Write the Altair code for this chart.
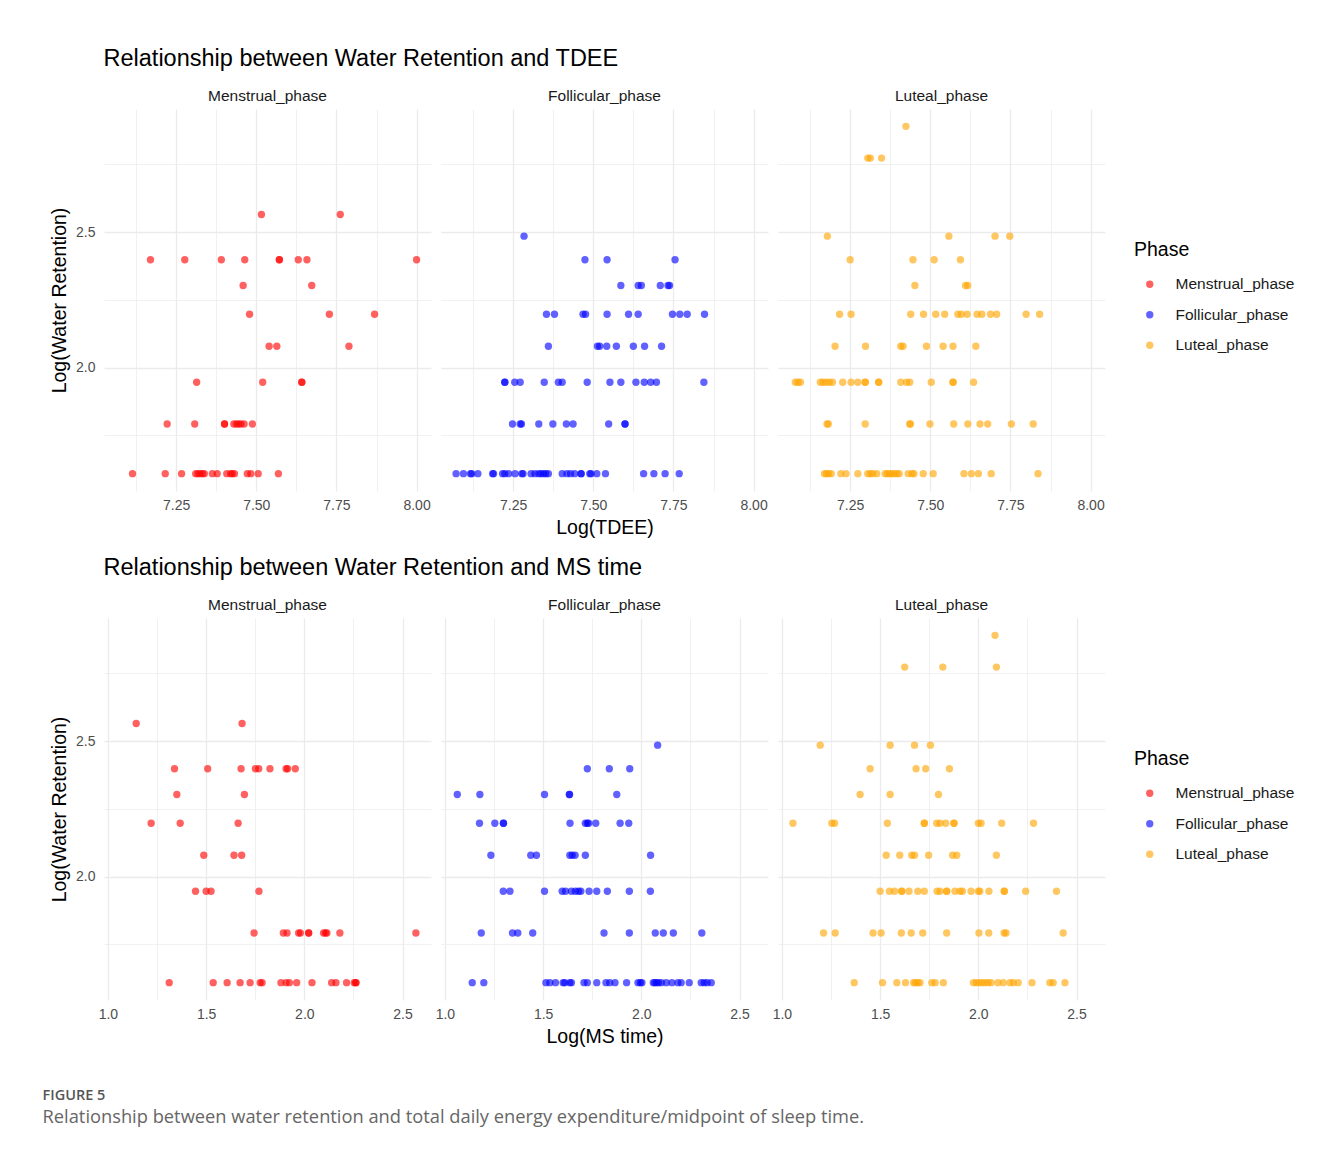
import altair as alt
import pandas as pd

PHASES = ["Menstrual_phase", "Follicular_phase", "Luteal_phase"]
COLORS = ["#FF0000", "#0000FF", "#FFA500"]

# Log(Water Retention) level -> Log(TDEE) values
TDEE_MENSTRUAL = {
    2.565: [7.516, 7.762],
    2.398: [7.170, 7.277, 7.391, 7.464, 7.572, 7.572, 7.631, 7.658, 8.000],
    2.303: [7.459, 7.673],
    2.197: [7.479, 7.728, 7.869],
    2.079: [7.540, 7.564, 7.789],
    1.946: [7.314, 7.520, 7.642, 7.642],
    1.792: [7.222, 7.308, 7.401, 7.401, 7.430, 7.438, 7.445, 7.452, 7.462, 7.488],
    1.609: [7.114, 7.216, 7.267, 7.311, 7.318, 7.325, 7.332, 7.338, 7.363, 7.378,
            7.408, 7.420, 7.425, 7.432, 7.472, 7.483, 7.506, 7.569],
}
TDEE_FOLLICULAR = {
    2.485: [7.284],
    2.398: [7.474, 7.543, 7.755],
    2.303: [7.586, 7.640, 7.650, 7.709, 7.733, 7.738],
    2.197: [7.354, 7.379, 7.468, 7.476, 7.543, 7.610, 7.640, 7.747, 7.770, 7.793, 7.847],
    2.079: [7.360, 7.513, 7.520, 7.542, 7.572, 7.625, 7.660, 7.713],
    1.946: [7.224, 7.224, 7.255, 7.272, 7.347, 7.391, 7.403, 7.481, 7.552, 7.586,
            7.633, 7.659, 7.679, 7.697, 7.845],
    1.792: [7.248, 7.272, 7.276, 7.330, 7.374, 7.416, 7.437, 7.548, 7.599, 7.599],
    1.609: [7.072, 7.095, 7.117, 7.121, 7.140, 7.186, 7.189, 7.217, 7.224, 7.236,
            7.256, 7.277, 7.281, 7.306, 7.318, 7.330, 7.337, 7.345, 7.352, 7.360,
            7.403, 7.418, 7.429, 7.442, 7.462, 7.462, 7.489, 7.493, 7.511, 7.538,
            7.657, 7.689, 7.724, 7.768],
}
TDEE_LUTEAL = {
    2.890: [7.424],
    2.773: [7.305, 7.313, 7.348],
    2.485: [7.179, 7.558, 7.702, 7.748],
    2.398: [7.250, 7.446, 7.512, 7.594],
    2.303: [7.452, 7.610, 7.617],
    2.197: [7.217, 7.253, 7.439, 7.479, 7.517, 7.545, 7.586, 7.597, 7.615, 7.646,
            7.661, 7.688, 7.707, 7.799, 7.841],
    2.079: [7.203, 7.298, 7.408, 7.415, 7.488, 7.540, 7.571, 7.642],
    1.946: [7.079, 7.087, 7.095, 7.157, 7.165, 7.175, 7.185, 7.195, 7.227, 7.253,
            7.274, 7.297, 7.297, 7.339, 7.339, 7.408, 7.426, 7.436, 7.503, 7.571,
            7.571, 7.635],
    1.792: [7.178, 7.182, 7.297, 7.436, 7.438, 7.499, 7.573, 7.617, 7.655, 7.679,
            7.753, 7.821],
    1.609: [7.170, 7.176, 7.183, 7.191, 7.221, 7.237, 7.274, 7.305, 7.313, 7.321,
            7.333, 7.359, 7.366, 7.373, 7.380, 7.388, 7.396, 7.403, 7.431, 7.443,
            7.449, 7.478, 7.509, 7.605, 7.628, 7.650, 7.690, 7.836],
}

# Log(Water Retention) level -> Log(MS time) values
MS_MENSTRUAL = {
    2.565: [1.144, 1.683],
    2.398: [1.339, 1.508, 1.678, 1.751, 1.768, 1.825, 1.907, 1.915, 1.954],
    2.303: [1.351, 1.695],
    2.197: [1.220, 1.368, 1.663],
    2.079: [1.488, 1.642, 1.681],
    1.946: [1.446, 1.500, 1.525, 1.769],
    1.792: [1.744, 1.893, 1.912, 1.971, 1.980, 2.022, 2.022, 2.098, 2.108, 2.115,
            2.181, 2.568],
    1.609: [1.312, 1.536, 1.607, 1.673, 1.724, 1.775, 1.785, 1.881, 1.907, 1.924,
            1.961, 2.039, 2.139, 2.161, 2.215, 2.254, 2.262, 2.263],
}
MS_FOLLICULAR = {
    2.485: [2.083],
    2.398: [1.725, 1.837, 1.941],
    2.303: [1.063, 1.178, 1.507, 1.634, 1.634, 1.875],
    2.197: [1.176, 1.254, 1.298, 1.298, 1.637, 1.715, 1.725, 1.732, 1.768, 1.892, 1.936],
    2.079: [1.234, 1.437, 1.466, 1.636, 1.648, 1.663, 1.715, 2.047],
    1.946: [1.297, 1.331, 1.507, 1.597, 1.614, 1.644, 1.664, 1.680, 1.692, 1.734,
            1.773, 1.827, 1.939, 2.046],
    1.792: [1.185, 1.344, 1.371, 1.447, 1.810, 1.939, 2.071, 2.112, 2.163, 2.308],
    1.609: [1.139, 1.198, 1.514, 1.534, 1.563, 1.602, 1.610, 1.636, 1.644, 1.708,
            1.725, 1.773, 1.820, 1.839, 1.866, 1.925, 1.983, 1.995, 2.003, 2.061,
            2.069, 2.078, 2.088, 2.102, 2.127, 2.156, 2.186, 2.203, 2.244, 2.305,
            2.320, 2.335, 2.356],
}
MS_LUTEAL = {
    2.890: [2.085],
    2.773: [1.625, 1.819, 2.092],
    2.485: [1.195, 1.551, 1.675, 1.756],
    2.398: [1.449, 1.683, 1.732, 1.853],
    2.303: [1.398, 1.551, 1.797],
    2.197: [1.056, 1.254, 1.268, 1.537, 1.725, 1.725, 1.788, 1.805, 1.834, 1.876,
            1.876, 2.000, 2.014, 2.119, 2.281],
    2.079: [1.531, 1.600, 1.661, 1.675, 1.747, 1.869, 1.890, 2.092],
    1.946: [1.500, 1.547, 1.573, 1.610, 1.610, 1.647, 1.692, 1.725, 1.790, 1.805,
            1.839, 1.839, 1.881, 1.907, 1.919, 1.963, 2.000, 2.008, 2.054, 2.132,
            2.132, 2.241, 2.398],
    1.792: [1.212, 1.271, 1.464, 1.505, 1.608, 1.658, 1.717, 1.839, 2.003, 2.053,
            2.131, 2.141, 2.432],
    1.609: [1.368, 1.512, 1.585, 1.629, 1.670, 1.680, 1.692, 1.703, 1.763, 1.780,
            1.822, 1.975, 1.990, 2.005, 2.020, 2.035, 2.050, 2.065, 2.100, 2.127,
            2.161, 2.178, 2.203, 2.273, 2.364, 2.381, 2.441],
}

TDEE_TICKS = [7.125, 7.25, 7.375, 7.5, 7.625, 7.75, 7.875, 8.0]
TDEE_MAJOR = [7.25, 7.5, 7.75, 8.0]
MS_TICKS = [1.0, 1.25, 1.5, 1.75, 2.0, 2.25, 2.5]
MS_MAJOR = [1.0, 1.5, 2.0, 2.5]
Y_TICKS = [1.75, 2.0, 2.25, 2.5, 2.75]
Y_MAJOR = [2.0, 2.5]

FONT = "Liberation Sans"
GRID = "#EBEBEB"


def to_frame(panels):
    rows = []
    for phase, d in zip(PHASES, panels):
        for yv, xs in d.items():
            for xv in xs:
                rows.append({"Phase": phase, "x": xv, "y": yv})
    return pd.DataFrame(rows)


def major_test(vals):
    return "indexof([" + ",".join(str(v) for v in vals) + "], datum.value) >= 0"


def row_chart(df, title, xtitle, xdomain, xticks, xmajor, xfmt):
    xtest = major_test(xmajor)
    ytest = major_test(Y_MAJOR)
    pts = alt.Chart(df).mark_circle(size=54, opacity=0.62).encode(
        x=alt.X(
            "x:Q", title=None,
            scale=alt.Scale(domain=xdomain, nice=False, zero=False),
            axis=alt.Axis(
                values=xticks,
                labelExpr=f"{xtest} ? format(datum.value, '{xfmt}') : ''",
                gridWidth={"condition": {"test": xtest, "value": 1.3}, "value": 0.7},
                gridColor=GRID, domain=False, ticks=False, labelPadding=7,
                labelFontSize=14, labelColor="#4D4D4D", labelFont=FONT,
            ),
        ),
        y=alt.Y(
            "y:Q", title="Log(Water Retention)",
            scale=alt.Scale(domain=[1.545, 2.954], nice=False, zero=False),
            axis=alt.Axis(
                values=Y_TICKS,
                labelExpr=f"{ytest} ? format(datum.value, '.1f') : ''",
                gridWidth={"condition": {"test": ytest, "value": 1.3}, "value": 0.7},
                gridColor=GRID, domain=False, ticks=False, labelPadding=9,
                labelFontSize=14, labelColor="#4D4D4D", labelFont=FONT,
                titleFontSize=19.5, titleFont=FONT, titleFontWeight="normal",
                titleColor="#000000", titlePadding=6,
            ),
        ),
        color=alt.Color(
            "Phase:N",
            scale=alt.Scale(domain=PHASES, range=COLORS),
            legend=alt.Legend(
                title="Phase", orient="none", legendX=1030, legendY=132,
                titleFontSize=19.5, titleFont=FONT, titleFontWeight="normal",
                titleColor="#000000", titlePadding=16,
                labelFontSize=15.5, labelFont=FONT, labelColor="#1A1A1A",
                labelOffset=18, symbolSize=54, symbolOpacity=0.62, symbolOffset=8,
                symbolType="circle", symbolStrokeWidth=0, rowPadding=13.5,
            ),
        ),
    ).properties(width=327, height=382)

    return pts.facet(
        column=alt.Column(
            "Phase:N", sort=PHASES, title=xtitle,
            header=alt.Header(labelFontSize=15.5, labelFont=FONT,
                              labelColor="#1A1A1A", labelPadding=5, labelOrient="top",
                              titleOrient="bottom", titleFontSize=19.5, titleFont=FONT,
                              titleFontWeight="normal", titleColor="#000000",
                              titlePadding=-3),
        ),
        spacing=10,
        title=alt.TitleParams(title, anchor="start", fontSize=23.5, font=FONT,
                              fontWeight="normal", color="#000000", offset=18, dx=54),
    )


top = row_chart(to_frame([TDEE_MENSTRUAL, TDEE_FOLLICULAR, TDEE_LUTEAL]),
                "Relationship between Water Retention and TDEE", "Log(TDEE)",
                [7.025, 8.045], TDEE_TICKS, TDEE_MAJOR, ".2f")
bottom = row_chart(to_frame([MS_MENSTRUAL, MS_FOLLICULAR, MS_LUTEAL]),
                   "Relationship between Water Retention and MS time", "Log(MS time)",
                   [0.98, 2.645], MS_TICKS, MS_MAJOR, ".1f")

chart = alt.vconcat(top, bottom, spacing=18).resolve_scale(color="independent").properties(
    title=alt.TitleParams(
        "FIGURE 5",
        subtitle="Relationship between water retention and total daily energy expenditure/midpoint of sleep time.",
        orient="bottom", anchor="start", font="Open Sans", fontSize=14.5, fontWeight=600,
        color="#555555", subtitleFont="Open Sans", subtitleFontSize=18.3,
        subtitleColor="#666666", subtitlePadding=6, offset=42, dx=-7,
    ),
    padding={"left": 34, "top": 39, "right": 10, "bottom": 20},
).configure(background="white").configure_view(stroke="transparent", strokeWidth=0)

chart.save("out.html", embed_options={"renderer": "svg", "actions": False})
